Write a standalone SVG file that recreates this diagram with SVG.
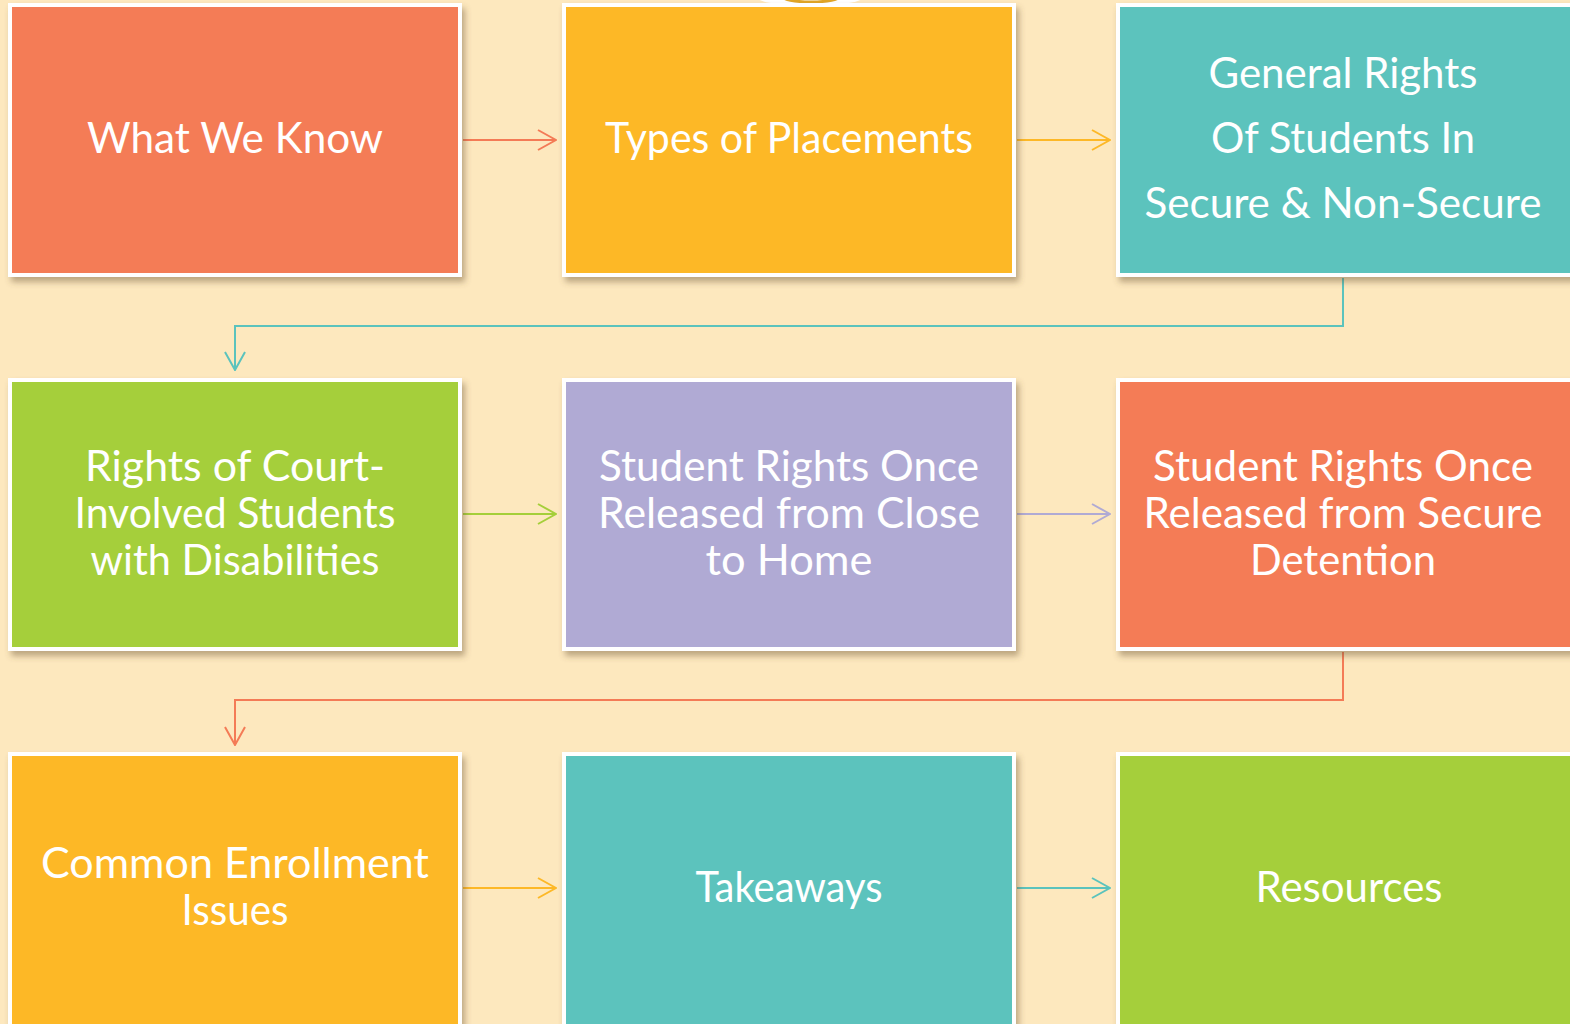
<svg xmlns="http://www.w3.org/2000/svg" width="1570" height="1024" viewBox="0 0 1570 1024">
<defs>
<style>
.box{stroke:#ffffff;stroke-width:4;filter:url(#sh)}
.t{font-family:"Lato","Noto Sans",sans-serif;font-size:42px;fill:#ffffff;text-anchor:middle}
.c{fill:none;stroke-width:2}
</style>
<filter id="sh" x="-10%" y="-10%" width="125%" height="125%">
<feDropShadow dx="3" dy="5" stdDeviation="3" flood-color="#6b5330" flood-opacity="0.45"/>
</filter>
<marker id="mO" viewBox="0 0 20 22" refX="19" refY="11" markerWidth="20" markerHeight="22" markerUnits="userSpaceOnUse" orient="auto"><path d="M1,1 L19,11 L1,21" fill="none" stroke="#F47B56" stroke-width="2"/></marker>
<marker id="mG" viewBox="0 0 20 22" refX="19" refY="11" markerWidth="20" markerHeight="22" markerUnits="userSpaceOnUse" orient="auto"><path d="M1,1 L19,11 L1,21" fill="none" stroke="#FDB827" stroke-width="2"/></marker>
<marker id="mT" viewBox="0 0 20 22" refX="19" refY="11" markerWidth="20" markerHeight="22" markerUnits="userSpaceOnUse" orient="auto"><path d="M1,1 L19,11 L1,21" fill="none" stroke="#5BC3BD" stroke-width="2"/></marker>
<marker id="mGr" viewBox="0 0 20 22" refX="19" refY="11" markerWidth="20" markerHeight="22" markerUnits="userSpaceOnUse" orient="auto"><path d="M1,1 L19,11 L1,21" fill="none" stroke="#A5CF3A" stroke-width="2"/></marker>
<marker id="mL" viewBox="0 0 20 22" refX="19" refY="11" markerWidth="20" markerHeight="22" markerUnits="userSpaceOnUse" orient="auto"><path d="M1,1 L19,11 L1,21" fill="none" stroke="#B0AAD4" stroke-width="2"/></marker>
</defs>
<rect x="0" y="0" width="1570" height="1024" fill="#FDE8BE"/>
<g id="ornament">
<ellipse cx="810" cy="-4" rx="55" ry="10" fill="#ffffff"/>
<ellipse cx="811" cy="-4" rx="29" ry="6" fill="none" stroke="#E0A526" stroke-width="3"/>
</g>
<g id="connectors">
<path class="c" stroke="#F47B56" d="M463,140 H556" marker-end="url(#mO)"/>
<path class="c" stroke="#FDB827" d="M1017,140 H1110" marker-end="url(#mG)"/>
<path class="c" stroke="#5BC3BD" d="M1343,278 V326 H235 V370" marker-end="url(#mT)"/>
<path class="c" stroke="#A5CF3A" d="M463,514 H556" marker-end="url(#mGr)"/>
<path class="c" stroke="#B0AAD4" d="M1017,514 H1110" marker-end="url(#mL)"/>
<path class="c" stroke="#F47B56" d="M1343,652 V700 H235 V745" marker-end="url(#mO)"/>
<path class="c" stroke="#FDB827" d="M463,888 H556" marker-end="url(#mG)"/>
<path class="c" stroke="#5BC3BD" d="M1017,888 H1110" marker-end="url(#mT)"/>
</g>
<g id="n1"><rect class="box" x="10" y="5" width="450" height="270" fill="#F47B56"/>
<text class="t" x="235" y="153" textLength="296" lengthAdjust="spacingAndGlyphs">What We Know</text></g>
<g id="n2"><rect class="box" x="564" y="5" width="450" height="270" fill="#FDB827"/>
<text class="t" x="789" y="153" textLength="368" lengthAdjust="spacingAndGlyphs">Types of Placements</text></g>
<g id="n3"><rect class="box" x="1118" y="5" width="454" height="270" fill="#5BC3BD"/>
<text class="t" x="1343" y="88" textLength="269" lengthAdjust="spacingAndGlyphs">General Rights</text>
<text class="t" x="1343" y="153" textLength="264" lengthAdjust="spacingAndGlyphs">Of Students In</text>
<text class="t" x="1343" y="218" textLength="397" lengthAdjust="spacingAndGlyphs">Secure &amp; Non-Secure</text></g>
<g id="n4"><rect class="box" x="10" y="380" width="450" height="269" fill="#A5CF3A"/>
<text class="t" x="235" y="481" textLength="300" lengthAdjust="spacingAndGlyphs">Rights of Court-</text>
<text class="t" x="235" y="528" textLength="321" lengthAdjust="spacingAndGlyphs">Involved Students</text>
<text class="t" x="235" y="575" textLength="289" lengthAdjust="spacingAndGlyphs">with Disabilities</text></g>
<g id="n5"><rect class="box" x="564" y="380" width="450" height="269" fill="#B0AAD4"/>
<text class="t" x="789" y="481" textLength="380" lengthAdjust="spacingAndGlyphs">Student Rights Once</text>
<text class="t" x="789" y="528" textLength="382" lengthAdjust="spacingAndGlyphs">Released from Close</text>
<text class="t" x="789" y="575" textLength="167" lengthAdjust="spacingAndGlyphs">to Home</text></g>
<g id="n6"><rect class="box" x="1118" y="380" width="454" height="269" fill="#F47B56"/>
<text class="t" x="1343" y="481" textLength="380" lengthAdjust="spacingAndGlyphs">Student Rights Once</text>
<text class="t" x="1343" y="528" textLength="399" lengthAdjust="spacingAndGlyphs">Released from Secure</text>
<text class="t" x="1343" y="575" textLength="186" lengthAdjust="spacingAndGlyphs">Detention</text></g>
<g id="n7"><rect class="box" x="10" y="754" width="450" height="280" fill="#FDB827"/>
<text class="t" x="235" y="878" textLength="388" lengthAdjust="spacingAndGlyphs">Common Enrollment</text>
<text class="t" x="235" y="925" textLength="107" lengthAdjust="spacingAndGlyphs">Issues</text></g>
<g id="n8"><rect class="box" x="564" y="754" width="450" height="280" fill="#5BC3BD"/>
<text class="t" x="789" y="902" textLength="187" lengthAdjust="spacingAndGlyphs">Takeaways</text></g>
<g id="n9"><rect class="box" x="1118" y="754" width="460" height="280" fill="#A5CF3A"/>
<text class="t" x="1349" y="902" textLength="187" lengthAdjust="spacingAndGlyphs">Resources</text></g>
</svg>
